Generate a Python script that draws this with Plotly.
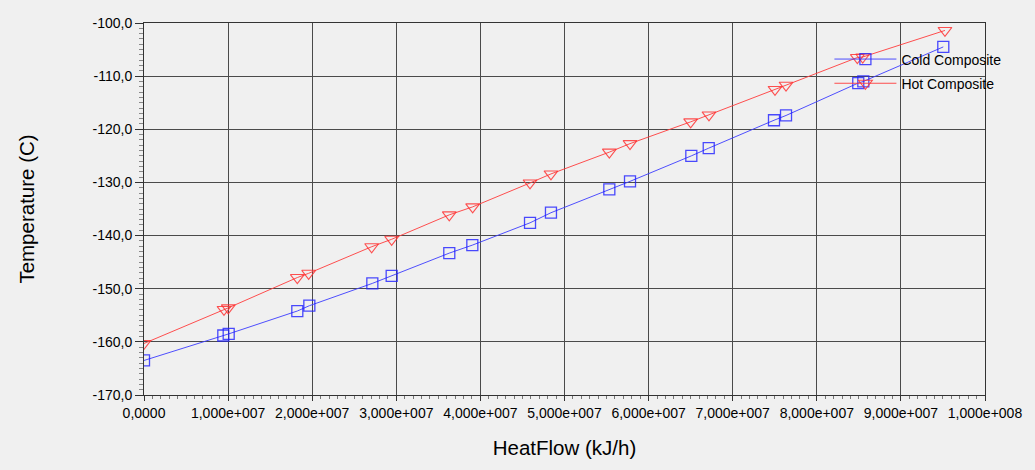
import plotly.graph_objects as go

# Composite curves: heat flow (kJ/h) vs temperature (C)
cold_heatflow = [0.0, 0.943e7, 1.007e7, 1.823e7, 1.966e7, 2.715e7, 2.945e7, 3.630e7, 3.904e7,
                 4.590e7, 4.839e7, 5.533e7, 5.779e7, 6.508e7, 6.715e7, 7.491e7, 7.634e7,
                 8.493e7, 8.553e7, 9.504e7]
cold_temp = [-163.5, -158.8, -158.5, -154.2, -153.2, -149.0, -147.6, -143.3, -141.8,
             -137.6, -135.7, -131.3, -129.8, -125.0, -123.55, -118.3, -117.4,
             -111.3, -111.0, -104.5]

hot_heatflow = [0.0, 0.951e7, 1.002e7, 1.823e7, 1.958e7, 2.707e7, 2.945e7, 3.630e7, 3.908e7,
                4.590e7, 4.839e7, 5.533e7, 5.779e7, 6.500e7, 6.718e7, 7.503e7, 7.634e7,
                8.482e7, 8.546e7, 9.524e7]
hot_temp = [-160.3, -153.9, -153.6, -147.9, -147.1, -142.1, -140.7, -136.1, -134.6,
            -130.1, -128.4, -124.3, -122.7, -118.6, -117.3, -112.5, -111.7,
            -106.5, -106.4, -101.4]

x_tickvals = [0, 1e7, 2e7, 3e7, 4e7, 5e7, 6e7, 7e7, 8e7, 9e7, 1e8]
x_ticktext = ["0,0000", "1,000e+007", "2,000e+007", "3,000e+007", "4,000e+007",
              "5,000e+007", "6,000e+007", "7,000e+007", "8,000e+007", "9,000e+007",
              "1,000e+008"]
y_tickvals = [-170, -160, -150, -140, -130, -120, -110, -100]
y_ticktext = ["-170,0", "-160,0", "-150,0", "-140,0", "-130,0", "-120,0", "-110,0", "-100,0"]

BG = "#f0f0f0"
GRID = "#4a4a4a"
FONT = "Liberation Sans, Arial, sans-serif"

fig = go.Figure()
fig.add_trace(go.Scatter(
    x=cold_heatflow, y=cold_temp, name="Cold Composite", legendgroup="cold",
    mode="lines+markers",
    line=dict(color="rgba(60,60,255,0.9)", width=1),
    marker=dict(symbol="square-open", size=11, color="rgba(30,30,255,0.8)",
                line=dict(width=1.3)),
))
fig.add_trace(go.Scatter(
    x=hot_heatflow, y=hot_temp, name="Hot Composite", legendgroup="hot",
    mode="lines+markers",
    line=dict(color="rgba(255,60,60,0.9)", width=1),
    marker=dict(symbol="triangle-down-open", size=12, color="rgba(255,50,50,0.85)",
                line=dict(width=1.1)),
))

fig.update_layout(
    width=1035, height=470,
    paper_bgcolor=BG, plot_bgcolor=BG,
    margin=dict(l=144, r=50, t=23, b=75),
    font=dict(family=FONT, size=13, color="#000000"),
    showlegend=True,
    legend=dict(x=0.815, y=0.945, xanchor="left", yanchor="top",
                bgcolor="rgba(0,0,0,0)", tracegroupgap=3, itemwidth=62,
                font=dict(family=FONT, size=14, color="#000000")),
)
fig.update_xaxes(
    range=[0, 1e8], tickvals=x_tickvals, ticktext=x_ticktext,
    tickfont=dict(size=14), ticks="outside", ticklen=5, tickcolor="#333",
    showgrid=True, gridcolor=GRID, gridwidth=1, zeroline=False,
    showline=True, linecolor="#333", linewidth=1, mirror=True,
    minor=dict(dtick=1e6, ticks="outside", ticklen=3, tickcolor="#777", showgrid=False),
    title=dict(text="HeatFlow (kJ/h)", font=dict(size=20.5), standoff=20),
)
fig.update_yaxes(
    range=[-170, -100], tickvals=y_tickvals, ticktext=y_ticktext,
    tickfont=dict(size=14), ticks="outside", ticklen=8, tickcolor="#333",
    showgrid=True, gridcolor=GRID, gridwidth=1, zeroline=False,
    showline=True, linecolor="#333", linewidth=1, mirror=True,
    minor=dict(dtick=1, ticks="outside", ticklen=4, tickcolor="#888", showgrid=False),
    title=dict(text="Temperature (C)", font=dict(size=20.5), standoff=52),
)

fig.write_html("out.html")
